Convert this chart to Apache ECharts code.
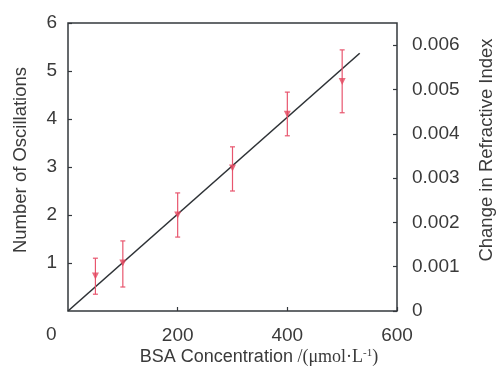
<!DOCTYPE html>
<html>
<head>
<meta charset="utf-8">
<script src="https://cdn.jsdelivr.net/npm/echarts@6/dist/echarts.min.js"></script>
<style>
html,body{margin:0;padding:0;background:#fff;}
#chart{width:503px;height:372px;}
</style>
</head>
<body>
<div id="chart"></div>
<script>
// Data
const concentrations = [50, 100, 200, 300, 400, 500];
const oscillations   = [0.73, 1.0, 2.0, 2.98, 4.1, 4.78];
const errLow         = [0.35, 0.5, 1.54, 2.5, 3.65, 4.13];
const errHigh        = [1.1, 1.46, 2.46, 3.42, 4.56, 5.44];
const fitX = [0, 532];
const fitY = [0, 5.37];
const xTickLabels = [0, 200, 400, 600];
const yLeftTicks = [0, 1, 2, 3, 4, 5, 6];
const yRightTicks = [0, 0.001, 0.002, 0.003, 0.004, 0.005, 0.006];

const txt = '#3a3a3a';
const red = '#e8566e';
const font = 'Liberation Sans, Arial, sans-serif';

const chart = echarts.init(document.getElementById('chart'), null, {renderer: 'canvas'});

const points = concentrations.map((x, i) => [x, oscillations[i]]);
const bars = concentrations.map((x, i) => [x, errLow[i], errHigh[i]]);
const fit = fitX.map((x, i) => [x, fitY[i]]);

chart.setOption({
  animation: false,
  grid: {left: 68, top: 23, width: 329, height: 288, show: true, borderColor: '#33383c', borderWidth: 1.5, backgroundColor: 'transparent'},
  xAxis: {
    type: 'value', min: xTickLabels[0], max: xTickLabels[xTickLabels.length - 1], interval: 200,
    axisLine: {show: false},
    axisTick: {show: true, inside: true, length: 4, lineStyle: {color: '#33383c', width: 1.2}},
    splitLine: {show: false},
    axisLabel: {showMinLabel: false, color: txt, fontSize: 19, fontFamily: font, margin: 15}
  },
  yAxis: [{
    type: 'value', min: yLeftTicks[0], max: yLeftTicks[yLeftTicks.length - 1], interval: 1,
    axisLine: {show: false},
    axisTick: {show: true, inside: true, length: 4, lineStyle: {color: '#33383c', width: 1.2}},
    splitLine: {show: false},
    axisLabel: {showMinLabel: false, color: txt, fontSize: 19, fontFamily: font, margin: 11}
  }, {
    type: 'value', position: 'right', min: 0, max: 0.0065, interval: 0.001,
    axisLine: {show: false},
    axisTick: {show: true, inside: true, length: 4, lineStyle: {color: '#33383c', width: 1.2}},
    splitLine: {show: false},
    axisLabel: {
      showMaxLabel: false, color: txt, fontSize: 19, fontFamily: font, margin: 15,
      formatter: v => {
        const found = yRightTicks.find(t => Math.abs(t - v) < 1e-9);
        if (found === undefined) return '';
        return found === 0 ? '0' : found.toFixed(3);
      }
    }
  }],
  graphic: [
    {type: 'text', left: 46, top: 325, style: {text: '0', fill: txt, font: '19px ' + font}},
    {type: 'text', x: 21, y: 160, rotation: Math.PI / 2, style: {text: 'Number of Oscillations', fill: txt, font: '18.5px ' + font, textAlign: 'center', textVerticalAlign: 'middle'}},
    {type: 'text', x: 487, y: 150, rotation: Math.PI / 2, style: {text: 'Change in Refractive Index', fill: txt, font: '18.5px ' + font, textAlign: 'center', textVerticalAlign: 'middle'}},
    {type: 'text', x: 259, y: 357, style: {
      text: '{a|BSA Concentration}{b| /(μmol·L}{s|-1}{b|)}',
      textAlign: 'center', textVerticalAlign: 'middle',
      rich: {
        a: {fontFamily: font, fontSize: 18, fill: txt},
        b: {fontFamily: 'Liberation Serif, Times New Roman, serif', fontSize: 18, fill: txt},
        s: {fontFamily: 'Liberation Serif, Times New Roman, serif', fontSize: 11, fill: txt, verticalAlign: 'top', padding: [0, 0, 8, 0]}
      }
    }}
  ],
  series: [
    {
      type: 'line', data: fit, showSymbol: false, symbol: 'none',
      lineStyle: {color: '#2e3236', width: 1.6}, z: 2
    },
    {
      type: 'custom', data: bars, z: 3,
      encode: {x: 0, y: [1, 2]},
      renderItem: (params, api) => {
        const x = api.value(0);
        const lo = api.coord([x, api.value(1)]);
        const hi = api.coord([x, api.value(2)]);
        const w = 2.5;
        const st = {stroke: red, lineWidth: 1.2};
        return {type: 'group', children: [
          {type: 'line', shape: {x1: lo[0], y1: lo[1], x2: hi[0], y2: hi[1]}, style: st},
          {type: 'line', shape: {x1: lo[0] - w, y1: lo[1], x2: lo[0] + w, y2: lo[1]}, style: st},
          {type: 'line', shape: {x1: hi[0] - w, y1: hi[1], x2: hi[0] + w, y2: hi[1]}, style: st}
        ]};
      }
    },
    {
      type: 'scatter', data: points, symbol: 'triangle', symbolRotate: 180, symbolSize: [7, 7],
      itemStyle: {color: '#e4475f'}, z: 4
    }
  ]
});
</script>
</body>
</html>
